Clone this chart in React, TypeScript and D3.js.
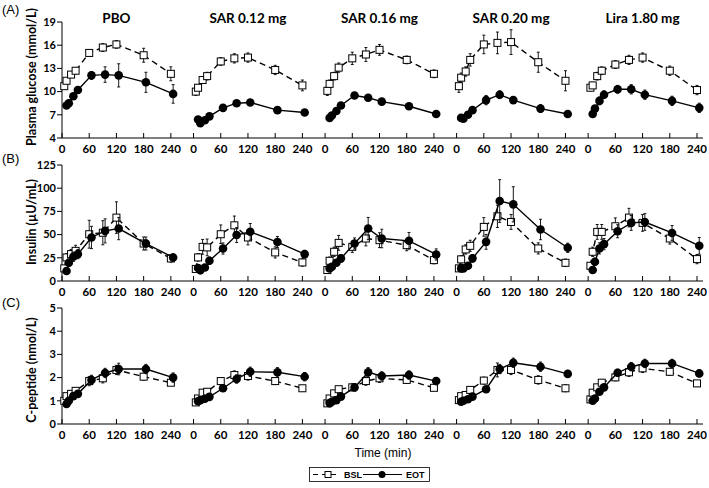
import React from "react";
import * as d3 from "d3";

const PANELS = ["PBO", "SAR 0.12 mg", "SAR 0.16 mg", "SAR 0.20 mg", "Lira 1.80 mg"];
const TIMES_BSL = [5, 10, 20, 30, 60, 90, 120, 180, 240];
const TIMES_EOT = [10, 15, 25, 35, 65, 95, 125, 185, 245];
const X_TICKS = [0, 60, 120, 180, 240];

// (A) Plasma glucose
const GLU_BSL = [
  [10.7, 11.4, 12.2, 12.7, 15.0, 15.7, 16.1, 14.7, 12.3],
  [10.0, 10.5, 11.5, 12.0, 13.9, 14.3, 14.4, 12.8, 10.8],
  [10.1, 11.0, 12.0, 13.1, 14.3, 14.8, 15.4, 14.1, 12.3],
  [10.7, 11.8, 12.6, 14.1, 16.1, 16.3, 16.4, 13.8, 11.4],
  [10.5, 10.8, 12.0, 12.7, 13.5, 14.1, 14.4, 12.7, 10.2],
];
const GLU_BSL_ERR = [
  [0.3, 0.3, 0.3, 0.4, 0.4, 0.5, 0.5, 0.9, 0.9],
  [0.5, 0.4, 0.4, 0.5, 0.5, 0.6, 0.6, 0.6, 0.7],
  [0.6, 0.5, 0.5, 0.6, 0.8, 0.9, 0.7, 0.5, 0.5],
  [0.8, 0.6, 0.6, 0.8, 1.2, 1.4, 1.6, 1.3, 1.3],
  [0.4, 0.4, 0.5, 0.5, 0.5, 0.6, 0.6, 0.6, 0.6],
];
const GLU_EOT = [
  [8.2, 8.5, 9.4, 10.2, 12.1, 12.2, 12.1, 11.2, 9.7],
  [6.4, 5.9, 6.3, 6.8, 7.9, 8.5, 8.6, 7.6, 7.3],
  [6.6, 6.9, 7.5, 8.2, 9.5, 9.2, 8.7, 8.1, 7.1],
  [6.6, 6.5, 7.0, 7.6, 8.9, 9.6, 8.9, 7.8, 7.1],
  [7.1, 7.8, 8.8, 9.6, 10.3, 10.3, 9.6, 8.8, 7.9],
];
const GLU_EOT_ERR = [
  [0.3, 0.3, 0.4, 0.4, 0.5, 1.0, 1.5, 1.3, 1.2],
  [0.3, 0.3, 0.3, 0.3, 0.3, 0.3, 0.3, 0.3, 0.3],
  [0.3, 0.3, 0.3, 0.3, 0.4, 0.4, 0.4, 0.3, 0.3],
  [0.3, 0.3, 0.3, 0.4, 0.6, 0.5, 0.4, 0.5, 0.4],
  [0.4, 0.4, 0.5, 0.5, 0.5, 0.6, 0.6, 0.6, 0.6],
];

// (B) Insulin
const INS_BSL = [
  [13.6, 25.4, 29, 32.5, 50.4, 52, 68.3, 40.4, 24.3],
  [13, 25.4, 36.8, 36.2, 50.4, 60, 46.9, 30.8, 20],
  [11.8, 21.8, 31.5, 41.1, 36.8, 45.8, 44, 38.6, 22.5],
  [13.6, 23.3, 34, 37.9, 58.3, 69.7, 63.6, 35.1, 19.6],
  [16.4, 31.5, 52.9, 52.9, 59, 68.3, 62.6, 45.8, 23.6],
];
const INS_BSL_ERR = [
  [3, 4, 5, 6, 15, 13, 17, 7, 4],
  [3, 4, 8, 9, 10, 10, 8, 6, 4],
  [3, 4, 5, 8, 6, 8, 8, 6, 4],
  [3, 4, 5, 6, 10, 12, 8, 6, 4],
  [3, 5, 8, 8, 9, 10, 9, 6, 5],
];
const INS_EOT = [
  [10.7, 19.7, 26.1, 29, 46.9, 54, 56.5, 40.4, 25.4],
  [14, 11.5, 14.5, 21.8, 35, 49.5, 53, 42, 29],
  [13.6, 15.3, 19.7, 24.4, 40.4, 56.5, 45.8, 43.3, 28.6],
  [13.6, 13.6, 16.4, 24.4, 42.2, 86.2, 82.6, 55.5, 35.8],
  [11.8, 20.7, 35.1, 39.7, 53.6, 62.6, 63.6, 51.8, 37.9],
];
const INS_EOT_ERR = [
  [3, 4, 5, 5, 12, 13, 12, 7, 4],
  [3, 3, 3, 4, 6, 8, 9, 6, 4],
  [3, 3, 3, 4, 6, 12, 10, 9, 6],
  [3, 3, 3, 4, 8, 23, 19, 11, 5],
  [3, 4, 6, 6, 7, 8, 9, 8, 9],
];

// (C) C-peptide
const CP_BSL = [
  [1.0, 1.2, 1.3, 1.43, 1.85, 1.97, 2.33, 2.04, 1.78],
  [0.93, 1.1, 1.35, 1.39, 1.85, 2.11, 2.07, 1.85, 1.54],
  [0.89, 1.1, 1.32, 1.5, 1.58, 1.85, 1.97, 1.9, 1.56],
  [1.03, 1.2, 1.25, 1.47, 1.87, 2.33, 2.33, 1.9, 1.54],
  [1.06, 1.35, 1.58, 1.78, 2.01, 2.23, 2.4, 2.25, 1.75],
];
const CP_BSL_ERR = [
  [0.1, 0.1, 0.1, 0.12, 0.2, 0.2, 0.2, 0.15, 0.12],
  [0.1, 0.1, 0.12, 0.12, 0.15, 0.18, 0.18, 0.15, 0.12],
  [0.1, 0.1, 0.12, 0.12, 0.15, 0.18, 0.18, 0.15, 0.12],
  [0.1, 0.1, 0.12, 0.12, 0.15, 0.3, 0.2, 0.18, 0.15],
  [0.1, 0.12, 0.12, 0.12, 0.15, 0.18, 0.18, 0.15, 0.12],
];
const CP_EOT = [
  [0.86, 1.0, 1.2, 1.3, 1.9, 2.2, 2.37, 2.37, 2.0],
  [0.98, 1.03, 1.09, 1.17, 1.54, 1.94, 2.25, 2.23, 2.04],
  [0.9, 0.96, 1.03, 1.18, 1.58, 2.23, 2.07, 2.11, 1.85],
  [0.96, 1.0, 1.07, 1.18, 1.5, 2.37, 2.64, 2.47, 2.16],
  [1.0, 1.1, 1.39, 1.58, 2.21, 2.47, 2.61, 2.61, 2.18],
];
const CP_EOT_ERR = [
  [0.1, 0.1, 0.1, 0.12, 0.2, 0.2, 0.25, 0.2, 0.2],
  [0.1, 0.1, 0.1, 0.1, 0.12, 0.18, 0.2, 0.2, 0.18],
  [0.1, 0.1, 0.1, 0.1, 0.15, 0.2, 0.18, 0.18, 0.15],
  [0.1, 0.1, 0.1, 0.1, 0.12, 0.2, 0.2, 0.2, 0.15],
  [0.1, 0.1, 0.1, 0.12, 0.15, 0.18, 0.18, 0.18, 0.15],
];

const GLU_TICKS = [4, 7, 10, 13, 16, 19];
const INS_TICKS = [0, 25, 50, 75, 100, 125];
const CP_TICKS = [0, 1, 2, 3, 4, 5];

const PANEL_GAP = 290;
const FONT = "Lato, 'Open Sans', sans-serif";
const ARIAL = "'Liberation Sans', Arial, sans-serif";

const ROWS = [
  { letter: "(A)", label: "Plasma glucose (mmol/L)", domain: [4, 19], range: [138, 22], ticks: GLU_TICKS,
    bsl: GLU_BSL, bslErr: GLU_BSL_ERR, eot: GLU_EOT, eotErr: GLU_EOT_ERR, labelY: 77, letterY: 14 },
  { letter: "(B)", label: "Insulin (µU/mL)", domain: [0, 125], range: [281, 165], ticks: INS_TICKS,
    bsl: INS_BSL, bslErr: INS_BSL_ERR, eot: INS_EOT, eotErr: INS_EOT_ERR, labelY: 222, letterY: 163 },
  { letter: "(C)", label: "C-peptide (nmol/L)", domain: [0, 5], range: [424, 308], ticks: CP_TICKS,
    bsl: CP_BSL, bslErr: CP_BSL_ERR, eot: CP_EOT, eotErr: CP_EOT_ERR, labelY: 370, letterY: 307 },
];

const X_MAX = 4 * PANEL_GAP + 240;
const x = d3.scaleLinear().domain([0, X_MAX]).range([62, 697]);
const px = (t: number, i: number) => x(t + i * PANEL_GAP);

function Series({ times, vals, errs, i, y, kind }: any) {
  const pts = times.map((t: number, k: number) => [px(t, i), y(vals[k])]);
  const line = d3.line()(pts as any) as string;
  return (
    <g>
      {times.map((t: number, k: number) => {
        const cx = px(t, i);
        const y1 = y(vals[k] + errs[k]);
        const y2 = y(vals[k] - errs[k]);
        return (
          <g key={"e" + k} stroke="#000" strokeWidth={0.9}>
            <line x1={cx} x2={cx} y1={y1} y2={y2} />
            <line x1={cx - 1.5} x2={cx + 1.5} y1={y1} y2={y1} />
            <line x1={cx - 1.5} x2={cx + 1.5} y1={y2} y2={y2} />
          </g>
        );
      })}
      <path d={line} fill="none" stroke="#000" strokeWidth={1.4}
        strokeDasharray={kind === "bsl" ? "6,4" : undefined} />
      {pts.map((p: number[], k: number) =>
        kind === "bsl" ? (
          <rect key={k} x={p[0] - 3.5} y={p[1] - 3.5} width={7} height={7} fill="#fff" stroke="#000" strokeWidth={1} />
        ) : (
          <circle key={k} cx={p[0]} cy={p[1]} r={4.3} fill="#000" />
        )
      )}
    </g>
  );
}

export default function App() {
  const axisRight = 703;
  return (
    <svg width={709} height={488} style={{ position: "absolute", left: 0, top: 0, background: "#fff" }}
      fontFamily={FONT}>
      <rect width={709} height={488} fill="#fff" />
      {PANELS.map((p, i) => (
        <text key={p} x={px(120, i)} y={23} textAnchor="middle" fontWeight="bold" fontSize={13.5}>{p}</text>
      ))}
      {ROWS.map((r, ri) => {
        const y = d3.scaleLinear().domain(r.domain).range(r.range);
        const y0 = y(r.domain[0]);
        return (
          <g key={ri}>
            <text x={2} y={r.letterY} fontSize={13} fontFamily={ARIAL}>{r.letter}</text>
            <text transform={`translate(36,${r.labelY}) rotate(-90)`} textAnchor="middle" fontWeight="bold" fontSize={12.5}>{r.label}</text>
            <line x1={x(0)} x2={x(0)} y1={y(r.domain[1])} y2={y0} stroke="#000" strokeWidth={1} />
            {r.ticks.map((t) => (
              <g key={t}>
                <line x1={x(0) - 5} x2={x(0)} y1={y(t)} y2={y(t)} stroke="#000" />
                <text x={x(0) - 6} y={y(t)} dy="0.35em" textAnchor="end" fontWeight="bold" fontSize={11}>{t}</text>
              </g>
            ))}
            <line x1={x(0)} x2={axisRight} y1={y0} y2={y0} stroke="#000" strokeWidth={1} />
            {PANELS.map((p, i) =>
              X_TICKS.map((t) => (
                <g key={p + t}>
                  <line x1={px(t, i)} x2={px(t, i)} y1={y0} y2={y0 - 5} stroke="#000" />
                  <text x={px(t, i)} y={y0 + 15} textAnchor="middle" fontWeight="bold" fontSize={11.5}>{t}</text>
                </g>
              ))
            )}
            {PANELS.map((p, i) => (
              <g key={"s" + p}>
                <Series times={TIMES_BSL} vals={r.bsl[i]} errs={r.bslErr[i]} i={i} y={y} kind="bsl" />
                <Series times={TIMES_EOT} vals={r.eot[i]} errs={r.eotErr[i]} i={i} y={y} kind="eot" />
              </g>
            ))}
          </g>
        );
      })}
      <text x={383} y={457} textAnchor="middle" fontSize={12} fontFamily={ARIAL}>Time (min)</text>
      <g>
        <rect x={309.5} y={467.5} width={120} height={14} fill="#fff" stroke="#000" strokeWidth={0.8} />
        <line x1={313} x2={340} y1={474.5} y2={474.5} stroke="#000" strokeWidth={1.2} strokeDasharray="5,4" />
        <rect x={325} y={471.5} width={6} height={6} fill="#fff" stroke="#000" />
        <text x={344} y={478} fontSize={9} fontWeight="bold" fontFamily={ARIAL}>BSL</text>
        <line x1={363} x2={402} y1={474.5} y2={474.5} stroke="#000" strokeWidth={1.2} />
        <circle cx={382} cy={474.5} r={3.5} fill="#000" />
        <text x={406} y={478} fontSize={9} fontWeight="bold" fontFamily={ARIAL}>EOT</text>
      </g>
    </svg>
  );
}
